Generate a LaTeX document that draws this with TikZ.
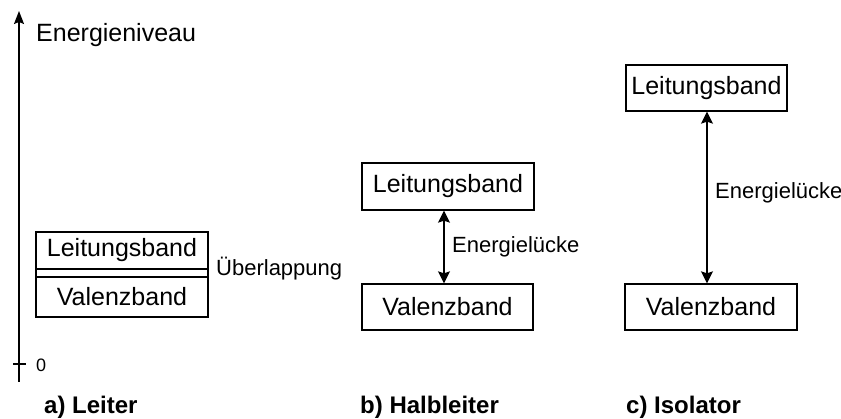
\documentclass[tikz,border=0pt]{standalone}
\usepackage{fontspec}
\setmainfont{Liberation Sans}
\usetikzlibrary{arrows.meta}
\begin{document}
\begin{tikzpicture}[x=1pt,y=-1pt,
  band/.style={draw,line width=1.3pt,inner sep=0pt},
  lbl/.style={font=\fontsize{25}{25}\selectfont,inner sep=0pt},
  side/.style={font=\fontsize{22}{22}\selectfont,inner sep=0pt,anchor=west},
  captxt/.style={font=\fontsize{24}{24}\selectfont\bfseries,inner sep=0pt,anchor=west},
  gap/.style={line width=1.3pt,{Stealth[length=12pt,width=12pt,inset=2pt]}-{Stealth[length=12pt,width=12pt,inset=2pt]}}
]
\useasboundingbox (0,0) rectangle (841,419);
% axis
\coordinate (ab) at (19,382);
\coordinate (at) at (19,11);
\draw[line width=1.3pt,-{Stealth[length=13pt,width=10pt,inset=2pt]}] (ab) -- (at);
\coordinate (t0) at (13,364);
\coordinate (t1) at (26,364);
\draw[line width=1.3pt] (t0) -- (t1);
\node[side,font=\fontsize{18}{18}\selectfont] (zero) at (36,365) {0};
\node[lbl,anchor=west] (en) at (36,35) {Energieniveau};
% a) Leiter
\node[band,minimum width=172pt,minimum height=45pt] (L1) at (122,254.5) {};
\node[band,minimum width=172pt,minimum height=48pt] (V1) at (122,293) {};
\node[lbl] (L1t) at (122,250.5) {Leitungsband};
\node[lbl] (V1t) at (122,297) {Valenzband};
\node[side] (ov) at (216,269) {Überlappung};
% b) Halbleiter
\node[band,minimum width=172pt,minimum height=47pt] (L2) at (448,186.5) {};
\node[lbl] at (L2) {Leitungsband};
\node[band,minimum width=171pt,minimum height=46pt] (V2) at (447.5,307) {};
\node[lbl] at (V2) {Valenzband};
\draw[gap] ([xshift=-4pt]L2.south) -- ([xshift=-3.5pt]V2.north);
\node[side] (g2) at (452,247) {Energielücke};
% c) Isolator
\node[band,minimum width=161pt,minimum height=46pt] (L3) at (706.5,88) {};
\node[lbl] at (L3) {Leitungsband};
\node[band,minimum width=172pt,minimum height=46pt] (V3) at (711,307) {};
\node[lbl] at (V3) {Valenzband};
\draw[gap] ([xshift=0.5pt]L3.south) -- ([xshift=-4pt]V3.north);
\node[side] (g3) at (715,193) {Energielücke};
% captions
\node[captxt] (ca) at (44,407) {a) Leiter};
\node[captxt] (cb) at (360,407) {b) Halbleiter};
\node[captxt] (cc) at (626,407) {c) Isolator};
\end{tikzpicture}
\end{document}
